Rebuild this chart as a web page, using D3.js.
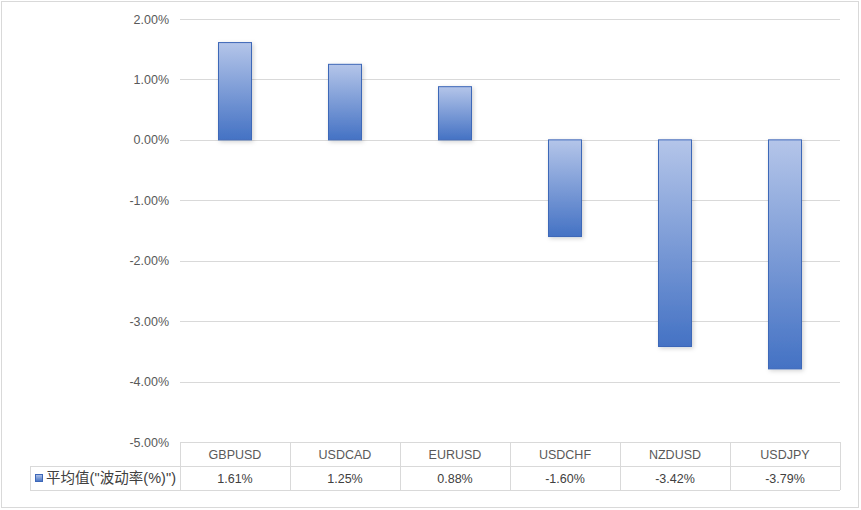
<!DOCTYPE html>
<html><head><meta charset="utf-8">
<script src="https://cdn.jsdelivr.net/npm/d3@7"></script>
<style>
html,body{margin:0;padding:0;background:#fff;}
text{font-family:"Liberation Sans","Noto Sans CJK SC",sans-serif;}
</style></head>
<body>
<svg id="c" width="861" height="510"></svg>
<script>
const categories = ["GBPUSD","USDCAD","EURUSD","USDCHF","NZDUSD","USDJPY"];
const values = [1.61, 1.25, 0.88, -1.60, -3.42, -3.79];
const valueLabels = ["1.61%","1.25%","0.88%","-1.60%","-3.42%","-3.79%"];
const yTicks = [2,1,0,-1,-2,-3,-4,-5];
const seriesName = '平均值("波动率(%)")';

(function(){
const svg = d3.select("#c");
const W = 861, H = 510;
const pLeft = 180, pRight = 840, pTop = 19, pBottom = 442;
const rowH = 24;

svg.append("rect").attr("x",1.5).attr("y",1.5).attr("width",W-4).attr("height",H-4)
  .attr("fill","#fff").attr("stroke","#d9d9d9");

const defs = svg.append("defs");
const g = defs.append("linearGradient").attr("id","bg").attr("x1",0).attr("y1",0).attr("x2",0).attr("y2",1);
g.append("stop").attr("offset","0%").attr("stop-color","#b4c5e9");
g.append("stop").attr("offset","100%").attr("stop-color","#4472c4");
const f = defs.append("filter").attr("id","sh").attr("x","-30%").attr("y","-10%").attr("width","160%").attr("height","130%");
f.append("feDropShadow").attr("dx",1.5).attr("dy",1.5).attr("stdDeviation",2).attr("flood-color","#000").attr("flood-opacity",0.18);

const x = d3.scaleBand().domain(categories).range([pLeft,pRight]);
const y = d3.scaleLinear().domain([-5,2]).range([pBottom,pTop]);

svg.append("g").selectAll("line").data(yTicks).join("line")
  .attr("x1",pLeft).attr("x2",pRight)
  .attr("y1",d=>Math.round(y(d))+0.5).attr("y2",d=>Math.round(y(d))+0.5)
  .attr("stroke","#d9d9d9").attr("stroke-width",1);

const yAxis = d3.axisLeft(y).tickValues(yTicks).tickSize(0).tickPadding(11)
  .tickFormat(d=>(d<0?"-":"")+Math.abs(d).toFixed(2)+"%");
const ya = svg.append("g").attr("transform",`translate(${pLeft},0)`).call(yAxis);
ya.select(".domain").remove();
ya.selectAll("text").attr("fill","#595959").attr("font-size",12.5);

const bw = x.bandwidth()*0.3;
svg.append("g").selectAll("rect").data(values).join("rect")
  .attr("x",(d,i)=>x(categories[i])+x.bandwidth()/2-bw/2)
  .attr("y",d=>y(Math.max(0,d)))
  .attr("width",bw)
  .attr("height",d=>Math.abs(y(d)-y(0)))
  .attr("fill","url(#bg)").attr("stroke","#3d67b8").attr("stroke-width",1)
  .attr("filter","url(#sh)");

const tg = svg.append("g");
const lx = 30;
const lineCol = "#d9d9d9";
tg.append("line").attr("x1",pLeft).attr("x2",pRight).attr("y1",pBottom+0.5).attr("y2",pBottom+0.5).attr("stroke",lineCol);
tg.append("line").attr("x1",lx).attr("x2",pRight).attr("y1",pBottom+rowH+0.5).attr("y2",pBottom+rowH+0.5).attr("stroke",lineCol);
tg.append("line").attr("x1",lx).attr("x2",pRight).attr("y1",pBottom+2*rowH+0.5).attr("y2",pBottom+2*rowH+0.5).attr("stroke",lineCol);
const vx = categories.map(c=>x(c)).concat([pRight]);
tg.selectAll("line.v").data(vx).join("line").attr("class","v")
  .attr("x1",d=>Math.round(d)+0.5).attr("x2",d=>Math.round(d)+0.5)
  .attr("y1",pBottom).attr("y2",pBottom+2*rowH).attr("stroke",lineCol);
tg.append("line").attr("x1",lx+0.5).attr("x2",lx+0.5).attr("y1",pBottom+rowH).attr("y2",pBottom+2*rowH).attr("stroke",lineCol);

tg.selectAll("text.cat").data(categories).join("text").attr("class","cat")
  .attr("x",d=>x(d)+x.bandwidth()/2).attr("y",pBottom+rowH/2+4.5)
  .attr("text-anchor","middle").attr("fill","#595959").attr("font-size",12.5).text(d=>d);
tg.selectAll("text.val").data(valueLabels).join("text").attr("class","val")
  .attr("x",(d,i)=>x(categories[i])+x.bandwidth()/2).attr("y",pBottom+rowH*1.5+4.5)
  .attr("text-anchor","middle").attr("fill","#404040").attr("font-size",12.5).text(d=>d);

tg.append("rect").attr("x",35.5).attr("y",pBottom+rowH*1.5-3.5).attr("width",7).attr("height",7)
  .attr("fill","url(#bg)").attr("stroke","#3d67b8");
tg.append("text").attr("x",46).attr("y",pBottom+rowH*1.5+5).attr("fill","#404040")
  .attr("font-size",14.5).attr("textLength",130).attr("lengthAdjust","spacing").text(seriesName);
})();
</script>
</body></html>
